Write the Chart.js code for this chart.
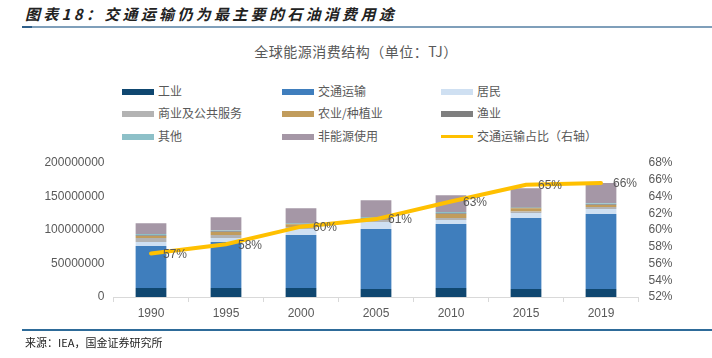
<!DOCTYPE html>
<html><head><meta charset="utf-8">
<script src="https://cdn.jsdelivr.net/npm/chart.js@4/dist/chart.umd.min.js"></script>
<style>
html,body{margin:0;padding:0;background:#fff;width:712px;height:358px;overflow:hidden;font-family:"Liberation Sans","Noto Sans CJK SC",sans-serif;}
#wrap{position:relative;width:712px;height:358px;}
#c{position:absolute;left:0;top:0;}
.hdr{position:absolute;left:25px;top:3px;font-size:15px;font-weight:bold;font-style:italic;color:#222;font-family:"Noto Sans CJK SC",sans-serif;letter-spacing:3.3px;}
.hline{position:absolute;left:22px;right:0;top:26px;height:2px;background:#7f9fba;}
.hline2{position:absolute;left:22px;width:10px;top:26px;height:2px;background:#2f5f8a;}
.fline{position:absolute;left:22px;right:0;top:329px;height:2px;background:#2e6b99;}
.ftr{position:absolute;left:25px;top:334px;font-size:11px;color:#222;font-family:"Noto Sans CJK SC",sans-serif;}
.title{position:absolute;left:0;width:712px;top:41px;text-align:center;font-size:14px;color:#595959;font-family:"Noto Sans CJK SC",sans-serif;letter-spacing:0.5px;}
.lg{position:absolute;font-size:12px;color:#595959;font-family:"Noto Sans CJK SC",sans-serif;line-height:14px;white-space:nowrap;}
.sw{display:inline-block;width:32px;height:6px;vertical-align:middle;margin-right:4px;position:relative;top:-1px;}
.ln{display:inline-block;width:32px;height:3px;vertical-align:middle;margin-right:4px;position:relative;top:-1px;}
</style></head>
<body><div id="wrap">
<div class="hdr">图表18：交通运输仍为最主要的石油消费用途</div>
<div class="hline"></div><div class="hline2"></div>
<div class="title">全球能源消费结构（单位：TJ）</div>
<div id="legend"></div>
<canvas id="c" width="712" height="358"></canvas>
<div class="fline"></div>
<div class="ftr">来源：IEA，国金证券研究所</div>
</div>
<script>
const categories = ["1990","1995","2000","2005","2010","2015","2019"];
const industry    = [13.4e6, 13.4e6, 13.4e6, 12.0e6, 13.4e6, 12.0e6, 12.0e6];
const transport   = [62.7e6, 68.7e6, 79.0e6, 89.5e6, 95.5e6, 106e6, 112e6];
const residential = [6.0e6, 6.0e6, 9.0e6, 10.5e6, 6.0e6, 7.5e6, 7.5e6];
const commercial  = [6.0e6, 4.5e6, 3.0e6, 3.0e6, 3.0e6, 2.0e6, 3.0e6];
const agriculture = [3.0e6, 4.5e6, 4.0e6, 1.5e6, 6.0e6, 5.0e6, 3.0e6];
const fishing     = [1.0e6, 1.0e6, 1.0e6, 1.0e6, 1.0e6, 1.0e6, 1.0e6];
const other       = [2.0e6, 1.0e6, 1.0e6, 2.0e6, 2.0e6, 1.0e6, 1.5e6];
const nonEnergy   = [16e6, 20e6, 22e6, 25e6, 25e6, 28e6, 30e6];
const transportShare = [57.2, 58.3, 60.4, 61.3, 63.4, 65.4, 65.6];
const leftTicks = [0, 50000000, 100000000, 150000000, 200000000];
const rightTicks = [52,54,56,58,60,62,64,66,68];

const series = [
  {name:"工业", data:industry, color:"#0f4770"},
  {name:"交通运输", data:transport, color:"#3f7ebd"},
  {name:"居民", data:residential, color:"#cfe0f2"},
  {name:"商业及公共服务", data:commercial, color:"#b3b3b3"},
  {name:"农业/种植业", data:agriculture, color:"#c19c5c"},
  {name:"渔业", data:fishing, color:"#7f7f7f"},
  {name:"其他", data:other, color:"#8dc0c8"},
  {name:"非能源使用", data:nonEnergy, color:"#a597a6"}
];
const lineName = "交通运输占比（右轴）";
const lineColor = "#ffc000";

// HTML legend (3 columns)
const legendEl = document.getElementById('legend');
const colX = [122, 282, 441];
const rowY = [84, 106, 129];
const items = series.map(s=>({name:s.name,color:s.color,type:'bar'})).concat([{name:lineName,color:lineColor,type:'line'}]);
items.forEach((it,i)=>{
  const d = document.createElement('div');
  d.className='lg';
  d.style.left = colX[i%3]+'px';
  d.style.top = rowY[Math.floor(i/3)]+'px';
  d.innerHTML = '<span class="'+(it.type==='bar'?'sw':'ln')+'" style="background:'+it.color+'"></span>'+it.name;
  legendEl.appendChild(d);
});

const labelPlugin = {
  id:'lineLabels',
  afterDatasetsDraw(chart){
    const ctx = chart.ctx;
    const idx = chart.data.datasets.length-1;
    const meta = chart.getDatasetMeta(idx);
    ctx.save();
    ctx.font = '12px "Liberation Sans", sans-serif';
    ctx.fillStyle = '#595959';
    ctx.textAlign = 'left';
    ctx.textBaseline = 'middle';
    meta.data.forEach((pt,i)=>{
      ctx.fillText(Math.round(transportShare[i])+'%', pt.x+12, pt.y+1);
    });
    ctx.restore();
  }
};

const datasets = series.map(s=>({
  type:'bar', label:s.name, data:s.data, backgroundColor:s.color,
  borderWidth:0, yAxisID:'y', order:1,
  categoryPercentage:0.82, barPercentage:0.5
}));
datasets.push({
  type:'line', label:lineName, data:transportShare, borderColor:lineColor,
  backgroundColor:lineColor, borderWidth:4, pointRadius:0, tension:0,
  yAxisID:'y1', order:0, borderCapStyle:'round'
});

new Chart(document.getElementById('c'), {
  data:{labels:categories, datasets},
  plugins:[labelPlugin],
  options:{
    responsive:false, animation:false,
    layout:{padding:{top:163, bottom:31, left:0, right:0}},
    plugins:{legend:{display:false}, tooltip:{enabled:false}},
    scales:{
      x:{
        stacked:true,
        grid:{display:true, drawOnChartArea:false, drawTicks:true, tickLength:5, color:'#d9d9d9', offset:true},
        border:{display:true, color:'#d9d9d9', width:1},
        ticks:{color:'#595959', font:{size:12, family:'"Liberation Sans", sans-serif'}, padding:4, maxRotation:0, autoSkip:false},
        afterFit(s){ s.height = 30; }
      },
      y:{
        stacked:true, position:'left', min:0, max:200000000,
        grid:{display:false, drawTicks:false},
        border:{display:false},
        afterBuildTicks(s){ s.ticks = leftTicks.map(v=>({value:v})); },
        ticks:{color:'#595959', font:{size:12, family:'"Liberation Sans", sans-serif'}, padding:9, autoSkip:false, callback:v=>String(v)},
        afterFit(s){ s.width = 113.5; }
      },
      y1:{
        position:'right', min:52, max:68, stacked:false,
        grid:{display:false, drawTicks:false},
        border:{display:false},
        afterBuildTicks(s){ s.ticks = rightTicks.map(v=>({value:v})); },
        ticks:{color:'#595959', font:{size:12, family:'"Liberation Sans", sans-serif'}, padding:10, autoSkip:false, callback:v=>v+'%'},
        afterFit(s){ s.width = 73.5; }
      }
    }
  }
});
</script>
</body></html>
